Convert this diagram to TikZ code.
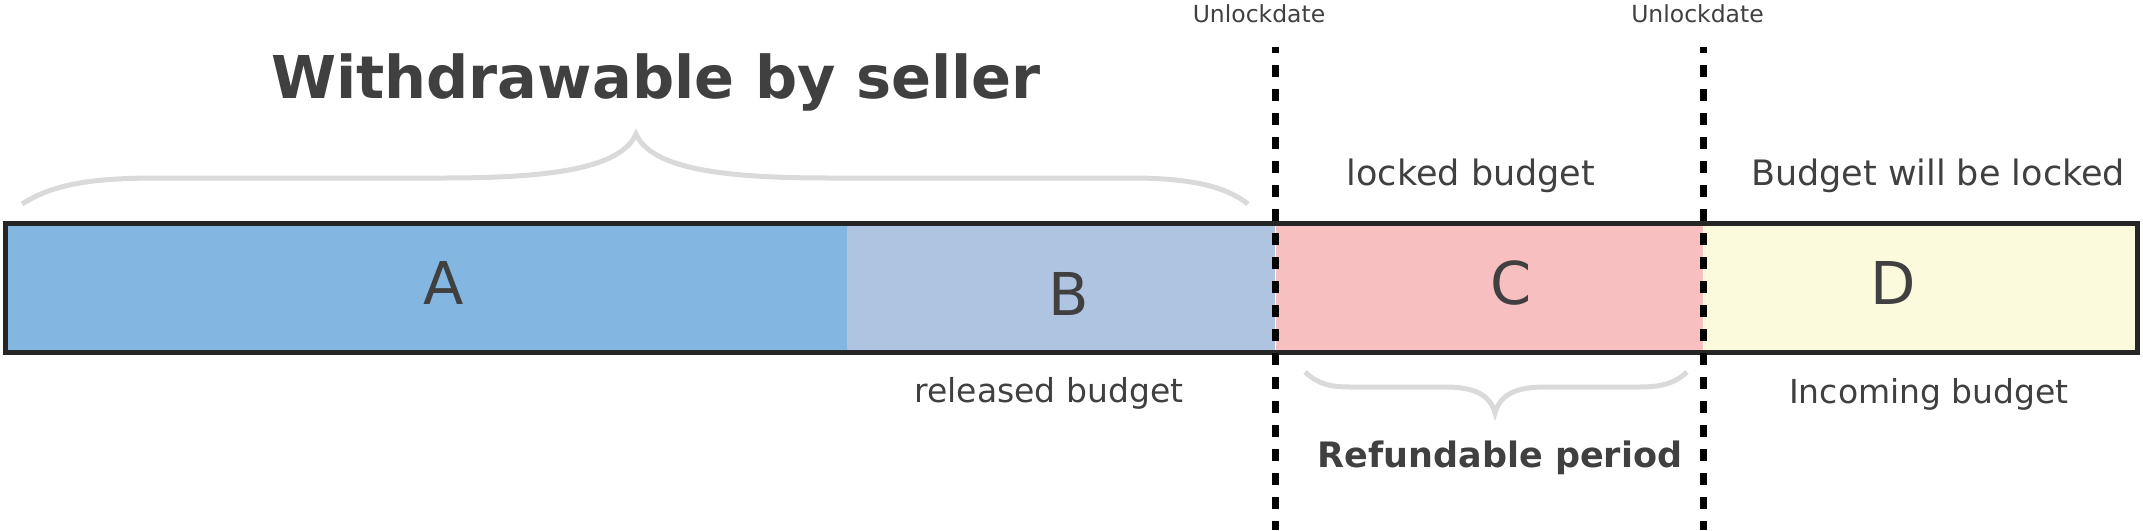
\documentclass[tikz,border=0pt]{standalone}
\usepackage{fontspec}
\setmainfont{DejaVu Sans}
\usetikzlibrary{positioning}
\definecolor{textgray}{HTML}{404040}
\definecolor{bracegray}{HTML}{D9DAD9}
\definecolor{bordergray}{HTML}{262626}
\definecolor{releasedblue}{HTML}{84B6E2}
\definecolor{paleblue}{HTML}{AFC4E1}
\definecolor{lockedred}{HTML}{F7BFC0}
\definecolor{incomingyellow}{HTML}{FCFADC}
\tikzstyle{cell}=[inner sep=0pt, outer sep=0pt, minimum height=129pt,
  anchor=north west]
\tikzstyle{celltext}=[text=textgray, inner sep=0pt, anchor=base,
  font=\fontsize{59}{70}\selectfont]
\tikzstyle{note}=[text=textgray, inner sep=0pt, anchor=base,
  font=\fontsize{35}{42}\selectfont]
\tikzstyle{lownote}=[note, font=\fontsize{33}{40}\selectfont]
\tikzstyle{datenote}=[text=textgray, inner sep=0pt, anchor=base,
  font=\fontsize{23.5}{28}\selectfont]
\tikzstyle{brace}=[draw=bracegray, line width=5pt]
\tikzstyle{unlockline}=[draw=black, line width=7pt,
  dash pattern=on 12pt off 12pt, dash phase=6pt]
\tikzstyle{bar}=[draw=bordergray, line width=5pt]

\begin{document}
\begin{tikzpicture}[x=1pt,y=-1pt]
  \useasboundingbox (0,0) rectangle (2143,530);

  \node(cellA)[cell,fill=releasedblue,minimum width=841.5pt] at (5.5,223.5){};
  \node(cellB)[cell,fill=paleblue,minimum width=428pt,right=0pt of cellA]{};
  \node(cellC)[cell,fill=lockedred,draw=white,line width=1pt,
    minimum width=428pt,right=0pt of cellB]{};
  \node(cellD)[cell,fill=incomingyellow,draw=white,line width=1pt,
    minimum width=434.5pt,right=0pt of cellC]{};
  \draw[bar] (cellA.north west) rectangle (cellD.south east);

  \path(cellA.north west)+(438.5,80.5) node(labA)[celltext]{A};
  \path(cellB.north west)+(222,91.5) node(labB)[celltext]{B};
  \path(cellC.north west)+(236,80.5) node(labC)[celltext]{C};
  \path(cellD.north west)+(190,80.5) node(labD)[celltext]{D};

  \node(title)[celltext,font=\fontsize{59}{70}\selectfont\bfseries]
    at (656,98){Withdrawable by seller};
  \draw[brace] (22,204) .. controls (55,183) and (95,178) .. (160,178)
    -- (445,178) .. controls (565,178) and (622,165) .. (636,134)
    .. controls (650,165) and (707,178) .. (827,178)
    -- (1130,178) .. controls (1190,178) and (1225,186) .. (1248,204);

  \node(locked)[note] at (1471,185){locked budget};
  \node(willlock)[note] at (1938,185){Budget will be locked};
  \node(released)[lownote] at (1049,402){released budget};
  \node(incoming)[lownote] at (1929,403){Incoming budget};

  \draw[brace] (1305,372) .. controls (1318,384) and (1330,387) .. (1350,387)
    -- (1445,387) .. controls (1475,387) and (1490,395) .. (1495,413)
    .. controls (1500,395) and (1515,387) .. (1545,387)
    -- (1640,387) .. controls (1660,387) and (1674,384) .. (1687,372);
  \node(refund)[note,font=\fontsize{35}{42}\selectfont\bfseries]
    at (1500,467){Refundable period};

  \node(unlock1)[datenote] at (1259,22){Unlockdate};
  \node(unlock2)[datenote] at (1697.5,22){Unlockdate};
  \coordinate(lock1top) at (1275.5,47);
  \coordinate(lock1end) at (1275.5,530);
  \coordinate(lock2top) at (1703.5,47);
  \coordinate(lock2end) at (1703.5,530);
  \draw[unlockline] (lock1top) -- (lock1end);
  \draw[unlockline] (lock2top) -- (lock2end);
\end{tikzpicture}
\end{document}
